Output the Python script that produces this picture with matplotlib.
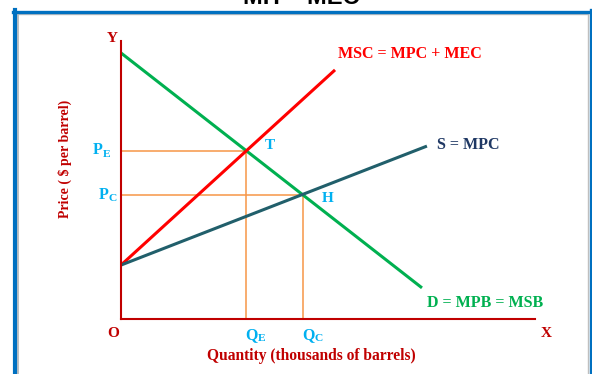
import matplotlib
matplotlib.use("Agg")
import matplotlib.pyplot as plt
from matplotlib.lines import Line2D

# ---- data (arbitrary price / quantity units) ----
demand_x = [0.0, 7.27]
demand_y = [9.57, 1.12]
msc_x = [0.0, 5.17]
msc_y = [1.94, 8.96]
mpc_x = [0.0, 7.39]
mpc_y = [1.94, 6.22]
QE, PE = 3.02, 6.04
QC, PC = 4.40, 4.46

W, H = 592, 374
fig = plt.figure(figsize=(W / 100, H / 100), dpi=100)
fig.patch.set_facecolor("white")

def fx(px):
    return px / W

def fy(py):
    return 1 - py / H

# slide frame
frame_blue = "#0070C0"
frame_gray = "#BFBFBF"
fig.add_artist(Line2D([fx(18), fx(18)], [fy(14), fy(380)], color=frame_gray, lw=1.4, transform=fig.transFigure))
fig.add_artist(Line2D([fx(18), fx(587)], [fy(13.8), fy(13.8)], color=frame_gray, lw=1.0, transform=fig.transFigure))
fig.add_artist(Line2D([fx(587.5), fx(587.5)], [fy(14), fy(380)], color=frame_gray, lw=1.0, transform=fig.transFigure))
fig.add_artist(Line2D([fx(15), fx(15)], [fy(10), fy(380)], color=frame_blue, lw=3.0, transform=fig.transFigure))
fig.add_artist(Line2D([fx(13), fx(592)], [fy(11.5), fy(11.5)], color=frame_blue, lw=2.4, transform=fig.transFigure))
fig.add_artist(Line2D([fx(590.5), fx(590.5)], [fy(10), fy(380)], color=frame_blue, lw=2.4, transform=fig.transFigure))

# partially visible slide title (cut off at the top, as in the slide screenshot)
fig.text(fx(301), fy(3.5), "MH = MEC", ha="center", va="baseline",
         fontsize=17, fontweight="bold", family="Liberation Sans", color="black")

# axes: origin at (121, 319) px, x to 535 px, y to 41 px
ax = fig.add_axes([fx(121), fy(319), (535 - 121) / W, (319 - 41) / H])
ax.set_xlim(0, 10)
ax.set_ylim(0, 10)
ax.set_facecolor("none")
for s in ["top", "right"]:
    ax.spines[s].set_visible(False)
axis_red = "#C00000"
for s in ["left", "bottom"]:
    ax.spines[s].set_color(axis_red)
    ax.spines[s].set_linewidth(1.5)
ax.set_xticks([])
ax.set_yticks([])

orange = "#F79646"
ax.plot([0, QE], [PE, PE], color=orange, lw=1.1)
ax.plot([0, QC], [PC, PC], color=orange, lw=1.1)
ax.plot([QE, QE], [0, PE], color=orange, lw=1.1)
ax.plot([QC, QC], [0, PC], color=orange, lw=1.1)

green = "#00B050"
red = "#FF0000"
teal = "#215F6B"
ax.plot(demand_x, demand_y, color=green, lw=2.2, solid_capstyle="butt")
ax.plot(msc_x, msc_y, color=red, lw=2.2, solid_capstyle="butt")
ax.plot(mpc_x, mpc_y, color=teal, lw=2.2, solid_capstyle="butt")

serif = "Liberation Serif"
cyan = "#00B0F0"

def lab(x, y, s, color, size=11, ha="left", va="center", **kw):
    return ax.text(x, y, s, color=color, fontsize=size, fontweight="bold",
                   family=serif, ha=ha, va=va, clip_on=False, **kw)

def sub_label(x, y, main, sub, color, size=11.5):
    t = ax.text(x, y, main, color=color, fontsize=size, fontweight="bold",
                family=serif, ha="left", va="baseline", clip_on=False)
    ax.annotate(sub, xy=(1, 0), xycoords=t, xytext=(0.2, 1.2), textcoords="offset points",
                color=color, fontsize=size * 0.72, fontweight="bold", family=serif,
                ha="left", va="baseline", annotation_clip=False)
    return t

# curve labels
lab(5.25, 9.52, "MSC = MPC + MEC", red, size=11.5)
lab(7.63, 6.25, "S = MPC", "#1F3864", size=11.5)
lab(7.4, 0.57, "D = MPB = MSB", green, size=11.5)

# points
lab(3.47, 6.23, "T", cyan)
lab(4.85, 4.33, "H", cyan)

# price / quantity markers
sub_label(-0.68, 5.92, "P", "E", cyan)
sub_label(-0.55, 4.32, "P", "C", cyan)
sub_label(3.00, -0.72, "Q", "E", cyan)
sub_label(4.38, -0.72, "Q", "C", cyan)

lab(-0.19, -0.52, "O", axis_red, ha="center")
lab(10.27, -0.52, "X", axis_red, ha="center")
lab(-0.22, 10.1, "Y", axis_red, ha="center")

ax.text(4.6, -1.33, "Quantity (thousands of barrels)", color=axis_red, fontsize=11.2,
        fontweight="bold", family=serif, ha="center", va="center", clip_on=False)
ax.text(-1.35, 5.75, "Price ( $ per barrel)", color=axis_red, fontsize=10,
        fontweight="bold", family=serif, ha="center", va="center", rotation=90, clip_on=False)

fig.savefig("out.png", dpi=100, facecolor="white")
